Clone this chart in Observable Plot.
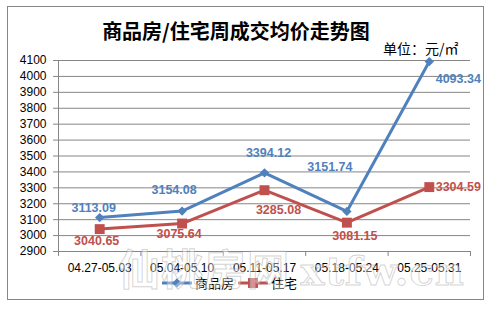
<!DOCTYPE html>
<html>
<head>
<meta charset="utf-8">
<script src="https://cdn.jsdelivr.net/npm/d3@7"></script>
<script src="https://cdn.jsdelivr.net/npm/@observablehq/plot@0.6"></script>
<style>
  html, body { margin: 0; padding: 0; background: #fff; }
  body { width: 492px; height: 310px; position: relative; overflow: hidden; font-family: "Liberation Sans", Arial, sans-serif; }
  #box { position: absolute; left: 7px; top: 6px; width: 477px; height: 294px; border: 1px solid #868686; box-sizing: border-box; background: #fff; }
  #title { position: absolute; left: 0; width: 472px; top: 19px; text-align: center; font-family: "Noto Sans CJK SC", sans-serif; font-weight: bold; font-size: 20px; line-height: 24px; color: #000; }
  #unit { position: absolute; left: 383px; top: 39px; font-family: "Noto Sans CJK SC", sans-serif; font-size: 14px; line-height: 18px; color: #000; }
  #chart { position: absolute; left: 0; top: 40px; }
  #legend { position: absolute; left: 162px; top: 274px; display: flex; align-items: center; font-family: "Noto Sans CJK SC", sans-serif; font-size: 13px; line-height: 18px; color: #000; }
  #legend svg { display: block; }
  #wm { position: absolute; left: 118px; top: 236px; font-family: "Noto Sans CJK SC", sans-serif; font-size: 42px; font-weight: bold; color: rgba(255,255,255,0.4); -webkit-text-stroke: 1px rgba(160,160,160,0.45); letter-spacing: 1px; white-space: nowrap; pointer-events: none; }
  #wm span { font-family: "DejaVu Serif", serif; font-size: 40px; }
</style>
</head>
<body>
<div id="box"></div>
<div id="title">商品房/住宅周成交均价走势图</div>
<div id="unit">单位：元/㎡</div>
<div id="chart"></div>
<div id="legend"></div>
<div id="wm">仙桃房网 <span>xtfw.cn</span></div>
<script>
const categories = ["04.27-05.03", "05.04-05.10", "05.11-05.17", "05.18-05.24", "05.25-05.31"];
const shangpinfang = [3113.09, 3154.08, 3394.12, 3151.74, 4093.34];
const zhuzhai = [3040.65, 3075.64, 3285.08, 3081.15, 3304.59];
const yTicks = [2900, 3000, 3100, 3200, 3300, 3400, 3500, 3600, 3700, 3800, 3900, 4000, 4100];
const seriesNames = ["商品房", "住宅"];

const blue = "#4f81bd";
const red = "#c0504d";
const gridColor = "#868686";

const rows = [];
categories.forEach((c, i) => {
  rows.push({series: seriesNames[0], idx: i, cat: c, value: shangpinfang[i]});
  rows.push({series: seriesNames[1], idx: i, cat: c, value: zhuzhai[i]});
});
const pos = d => d.idx + 0.5;
const blueRows = rows.filter(d => d.series === seriesNames[0]);
const redRows = rows.filter(d => d.series === seriesNames[1]);

// per-label offsets (styling, not data)
const blueOffsets = [[-6, -10], [-8, -21], [4, -20], [-17, -44], [29, 17]];
const redOffsets = [[-3, 12], [-3, 10], [14, 20], [8, 13], [29, 0]];

const labelStyle = {fontSize: 12.5, fontWeight: "bold"};
const labelMarks = [];
blueRows.forEach((r, i) => {
  labelMarks.push(Plot.text([r], {x: pos, y: "value", text: d => d.value.toFixed(2), dx: blueOffsets[i][0], dy: blueOffsets[i][1], fill: blue, ...labelStyle}));
});
redRows.forEach((r, i) => {
  labelMarks.push(Plot.text([r], {x: pos, y: "value", text: d => d.value.toFixed(2), dx: redOffsets[i][0], dy: redOffsets[i][1], fill: red, ...labelStyle}));
});

const centers = categories.map((c, i) => i + 0.5);
const bounds = d3.range(categories.length + 1);

const chart = Plot.plot({
  width: 492,
  height: 260,
  marginTop: 20,
  marginBottom: 49,
  marginLeft: 58,
  marginRight: 22,
  style: {fontFamily: "'Liberation Sans', Arial, sans-serif", fontSize: "12px", color: "#000", background: "transparent", overflow: "visible"},
  x: {type: "linear", domain: [0, categories.length]},
  y: {domain: [2900, 4100]},
  marks: [
    Plot.gridY(yTicks, {stroke: gridColor, strokeOpacity: 1}),
    Plot.ruleX([0], {stroke: gridColor}),
    Plot.ruleY([2900], {stroke: gridColor}),
    Plot.axisY({ticks: yTicks, tickSize: 5, tickPadding: 7, tickFormat: d => String(d), stroke: gridColor, fill: "#000", fontSize: 12, label: null}),
    Plot.axisX({ticks: centers, tickSize: 0, tickPadding: 12, tickFormat: d => categories[Math.floor(d)], fill: "#000", fontSize: 12, label: null}),
    Plot.axisX({ticks: bounds, tickSize: 5, tickFormat: () => "", stroke: gridColor, label: null}),
    Plot.line(redRows, {x: pos, y: "value", stroke: red, strokeWidth: 3}),
    Plot.line(blueRows, {x: pos, y: "value", stroke: blue, strokeWidth: 3}),
    Plot.dot(redRows, {x: pos, y: "value", symbol: "square", r: 5.6, fill: red, stroke: "none"}),
    Plot.dot(blueRows, {x: pos, y: "value", symbol: "diamond2", r: 4.2, fill: blue, stroke: "none"}),
    ...labelMarks
  ]
});
document.getElementById("chart").appendChild(chart);

// legend
const legend = document.getElementById("legend");
const items = [
  {name: seriesNames[0], color: blue, sym: d3.symbolDiamond2, size: 4.2 * 4.2 * Math.PI},
  {name: seriesNames[1], color: red, sym: d3.symbolSquare, size: 5.6 * 5.6 * Math.PI}
];
items.forEach((it, k) => {
  const s = d3.create("svg").attr("width", 30).attr("height", 14).style("margin-right", "3px").style("margin-left", k ? "4px" : "0");
  s.append("line").attr("x1", 0).attr("x2", 30).attr("y1", 7).attr("y2", 7).attr("stroke", it.color).attr("stroke-width", 3);
  s.append("path").attr("transform", "translate(15,7)").attr("d", d3.symbol(it.sym, it.size)()).attr("fill", it.color);
  legend.appendChild(s.node());
  const t = document.createElement("span");
  t.textContent = it.name;
  legend.appendChild(t);
});
</script>
</body>
</html>
